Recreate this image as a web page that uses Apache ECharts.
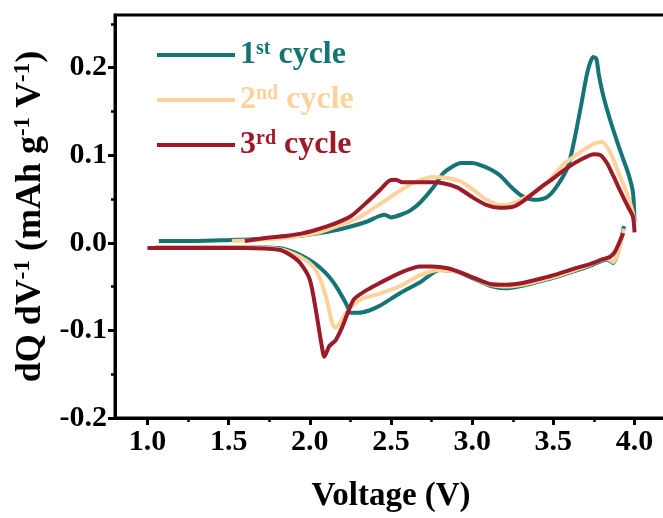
<!DOCTYPE html>
<html>
<head>
<meta charset="utf-8">
<script src="https://cdn.jsdelivr.net/npm/echarts@6/dist/echarts.min.js"></script>
<style>
  html, body { margin: 0; padding: 0; background: #fff; }
  #chart { width: 663px; height: 518px; }
</style>
</head>
<body>
<div id="chart"></div>
<script>
// Differential capacity (dQ/dV) curves for the first three cycles.
const cycleNames = ['1st cycle', '2nd cycle', '3rd cycle'];
const cycleColors = ['#167474', '#fdd29b', '#9b1b2b'];

// Cycle 1 — charge branch
const c1ChargeV = [1.07, 1.3, 1.5, 1.65, 1.8, 1.94, 2.06, 2.2, 2.35, 2.42, 2.46, 2.5, 2.56, 2.62, 2.68, 2.76, 2.82, 2.88, 2.93, 3.0, 3.06, 3.12, 3.17, 3.25, 3.31, 3.38, 3.46, 3.52, 3.59, 3.63, 3.67, 3.71, 3.745, 3.765, 3.78, 3.81, 3.85, 3.91, 3.96, 3.99, 4.0];
const c1ChargeQ = [0.002, 0.002, 0.003, 0.004, 0.006, 0.008, 0.011, 0.016, 0.024, 0.030, 0.032, 0.029, 0.032, 0.037, 0.046, 0.063, 0.079, 0.087, 0.091, 0.091, 0.088, 0.083, 0.077, 0.062, 0.053, 0.049, 0.052, 0.064, 0.087, 0.118, 0.156, 0.195, 0.212, 0.210, 0.192, 0.166, 0.140, 0.106, 0.080, 0.058, 0.024];
// Cycle 1 — discharge branch
const c1DischargeV = [3.935, 3.87, 3.83, 3.73, 3.62, 3.52, 3.42, 3.31, 3.21, 3.11, 3.01, 2.91, 2.8, 2.68, 2.56, 2.43, 2.37, 2.3, 2.25, 2.23, 2.21, 2.17, 2.12, 2.06, 2.0, 1.92, 1.81, 1.6, 1.3, 1.05];
const c1DischargeQ = [0.019, -0.023, -0.019, -0.026, -0.033, -0.039, -0.044, -0.049, -0.052, -0.049, -0.041, -0.033, -0.031, -0.045, -0.057, -0.072, -0.077, -0.080, -0.080, -0.072, -0.065, -0.052, -0.039, -0.028, -0.020, -0.012, -0.006, -0.005, -0.005, -0.005];

// Cycle 2 — charge branch
const c2ChargeV = [1.52, 1.65, 1.8, 1.94, 2.06, 2.14, 2.27, 2.35, 2.47, 2.56, 2.66, 2.76, 2.84, 2.93, 3.01, 3.09, 3.17, 3.25, 3.38, 3.46, 3.56, 3.67, 3.75, 3.8, 3.85, 3.91, 3.96, 3.99, 4.0];
const c2ChargeQ = [0.002, 0.003, 0.005, 0.008, 0.012, 0.017, 0.026, 0.034, 0.049, 0.060, 0.070, 0.075, 0.074, 0.070, 0.060, 0.049, 0.043, 0.045, 0.057, 0.068, 0.089, 0.104, 0.113, 0.115, 0.103, 0.076, 0.053, 0.034, 0.020];
// Cycle 2 — discharge branch
const c2DischargeV = [3.935, 3.87, 3.83, 3.73, 3.62, 3.52, 3.42, 3.31, 3.21, 3.11, 3.01, 2.93, 2.8, 2.68, 2.56, 2.43, 2.32, 2.24, 2.19, 2.16, 2.14, 2.1, 2.06, 2.02, 1.94, 1.81, 1.6, 1.3, 1.05];
const c2DischargeQ = [0.016, -0.022, -0.018, -0.025, -0.032, -0.038, -0.043, -0.048, -0.050, -0.048, -0.040, -0.034, -0.031, -0.037, -0.049, -0.058, -0.064, -0.076, -0.090, -0.097, -0.093, -0.062, -0.040, -0.027, -0.016, -0.007, -0.005, -0.005, -0.005];

// Cycle 3 — charge branch
const c3ChargeV = [1.6, 1.75, 1.86, 1.96, 2.06, 2.14, 2.25, 2.35, 2.43, 2.49, 2.53, 2.57, 2.66, 2.76, 2.82, 2.91, 3.01, 3.09, 3.17, 3.25, 3.31, 3.42, 3.48, 3.59, 3.67, 3.75, 3.79, 3.83, 3.87, 3.91, 3.96, 3.99, 4.0];
const c3ChargeQ = [0.002, 0.006, 0.008, 0.011, 0.016, 0.021, 0.030, 0.046, 0.060, 0.071, 0.072, 0.069, 0.069, 0.069, 0.068, 0.063, 0.051, 0.043, 0.040, 0.041, 0.047, 0.063, 0.071, 0.086, 0.095, 0.101, 0.100, 0.091, 0.076, 0.060, 0.041, 0.030, 0.012];
// Cycle 3 — discharge branch
const c3DischargeV = [3.93, 3.88, 3.85, 3.8, 3.73, 3.62, 3.52, 3.42, 3.31, 3.21, 3.11, 3.01, 2.93, 2.85, 2.75, 2.68, 2.56, 2.43, 2.35, 2.27, 2.2, 2.16, 2.12, 2.09, 2.07, 2.04, 2.0, 1.94, 1.88, 1.81, 1.6, 1.3, 1.0];
const c3DischargeQ = [0.011, -0.010, -0.016, -0.019, -0.024, -0.030, -0.036, -0.041, -0.046, -0.048, -0.047, -0.040, -0.034, -0.029, -0.027, -0.027, -0.034, -0.046, -0.054, -0.065, -0.096, -0.111, -0.118, -0.130, -0.114, -0.080, -0.042, -0.023, -0.014, -0.008, -0.006, -0.006, -0.006];

// Axis ticks
const xMajorTicks = [1.0, 1.5, 2.0, 2.5, 3.0, 3.5, 4.0];
const xMinorTicks = [1.25, 1.75, 2.25, 2.75, 3.25, 3.75];
const yTicks = [-0.2, -0.1, 0.0, 0.1, 0.2];

const branches = [
  [c1ChargeV, c1ChargeQ, c1DischargeV, c1DischargeQ],
  [c2ChargeV, c2ChargeQ, c2DischargeV, c2DischargeQ],
  [c3ChargeV, c3ChargeQ, c3DischargeV, c3DischargeQ]
];

const pair = (xs, ys) => xs.map((x, i) => [x, ys[i]]);

const series = [];
branches.forEach((b, i) => {
  [[b[0], b[1]], [b[2], b[3]]].forEach(([xs, ys]) => {
    series.push({
      name: cycleNames[i],
      type: 'line',
      xAxisIndex: 0,
      data: pair(xs, ys),
      showSymbol: false,
      smooth: 0.25,
      color: cycleColors[i],
      lineStyle: { width: 4, color: cycleColors[i] },
      z: 2 + i
    });
  });
});

const serif = 'Liberation Serif, Times New Roman, serif';
const legendRich = {};
cycleColors.forEach((c, i) => {
  legendRich['t' + i] = { fontFamily: serif, fontWeight: 'bold', fontSize: 32, color: c, lineHeight: 32 };
  legendRich['s' + i] = { fontFamily: serif, fontWeight: 'bold', fontSize: 20, color: c, verticalAlign: 'top', lineHeight: 32 };
});
const supText = ['st', 'nd', 'rd'];

const axisLineStyle = { color: '#000', width: 3 };
const tickLabel = { color: '#000', fontFamily: serif, fontWeight: 'bold', fontSize: 30 };

const chart = echarts.init(document.getElementById('chart'), null, { renderer: 'canvas' });
chart.setOption({
  backgroundColor: '#fff',
  animation: false,
  grid: {
    left: 115, top: 15, width: 552, height: 403,
    show: true, borderColor: '#000', borderWidth: 3,
    outerBoundsMode: 'none', containLabel: false
  },
  legend: {
    orient: 'vertical',
    left: 152,
    top: 34,
    icon: 'rect',
    itemWidth: 78,
    itemHeight: 4,
    itemGap: 13,
    data: cycleNames,
    formatter: (name) => {
      const i = cycleNames.indexOf(name);
      return '{t' + i + '|' + (i + 1) + '}{s' + i + '|' + supText[i] + '}{t' + i + '| cycle}';
    },
    textStyle: { rich: legendRich }
  },
  xAxis: [
    {
      type: 'value',
      min: 0.8,
      max: 4.2,
      position: 'bottom',
      axisLine: { onZero: false, lineStyle: axisLineStyle },
      axisTick: { show: true, inside: false, length: 7, lineStyle: { color: '#000', width: 3 }, customValues: xMajorTicks },
      axisLabel: Object.assign({ margin: 9, customValues: xMajorTicks, formatter: (v) => v.toFixed(1) }, tickLabel),
      splitLine: { show: false },
      name: 'Voltage (V)',
      nameLocation: 'middle',
      nameGap: 62,
      nameTextStyle: { color: '#000', fontFamily: serif, fontWeight: 'bold', fontSize: 33 }
    },
    {
      type: 'value',
      min: 0.8,
      max: 4.2,
      position: 'bottom',
      axisLine: { show: false, onZero: false },
      axisTick: { show: true, inside: false, length: 4, lineStyle: { color: '#000', width: 2.5 }, customValues: xMinorTicks },
      axisLabel: { show: false },
      splitLine: { show: false }
    }
  ],
  yAxis: {
    type: 'value',
    min: -0.2,
    max: 0.26,
    interval: 0.1,
    axisLine: { show: true, onZero: false, lineStyle: axisLineStyle },
    axisTick: { show: true, inside: false, length: 7, lineStyle: { color: '#000', width: 3 }, customValues: yTicks },
    minorTick: { show: true, splitNumber: 2, length: 4, lineStyle: { color: '#000', width: 2.5 } },
    axisLabel: Object.assign({ margin: 8, customValues: yTicks, formatter: (v) => v.toFixed(1) }, tickLabel),
    splitLine: { show: false },
    minorSplitLine: { show: false },
    name: '{b|dQ dV}{s|-1}{b| (mAh g}{s|-1}{b| V}{s|-1}{b|)}',
    nameLocation: 'middle',
    nameRotate: 90,
    nameGap: 56,
    nameTextStyle: {
      rich: {
        b: { fontFamily: serif, fontWeight: 'bold', fontSize: 36, color: '#000', lineHeight: 38 },
        s: { fontFamily: serif, fontWeight: 'bold', fontSize: 23, color: '#000', verticalAlign: 'top', lineHeight: 38 }
      }
    }
  },
  series: series
});
</script>
</body>
</html>
